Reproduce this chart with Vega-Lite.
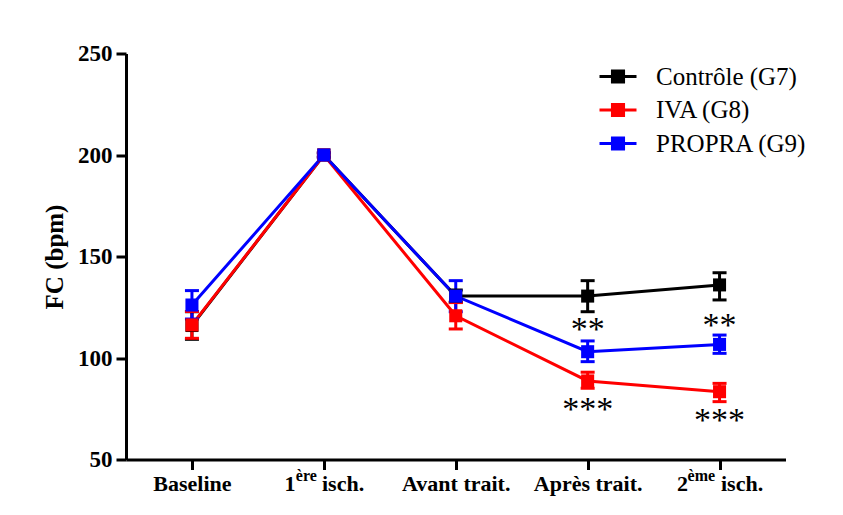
{
  "$schema": "https://vega.github.io/schema/vega-lite/v6.json",
  "autosize": {"type": "none"},
  "width": 659.5,
  "height": 406,
  "padding": {"left": 126, "top": 53.5, "right": 57.5, "bottom": 55.5},
  "background": "white",
  "config": {
    "view": {"stroke": null},
    "font": "Liberation Serif",
    "axis": {
      "grid": false,
      "domainColor": "black",
      "domainWidth": 3,
      "tickColor": "black",
      "tickWidth": 3,
      "tickSize": 10,
      "labelFont": "Liberation Serif",
      "labelFontWeight": "bold",
      "labelColor": "black",
      "titleFont": "Liberation Serif",
      "titleFontWeight": "bold",
      "titleColor": "black"
    },
    "legend": {
      "labelFont": "Liberation Serif",
      "labelFontSize": 25,
      "labelColor": "black",
      "labelFontWeight": "normal"
    }
  },
  "datasets": {
    "fc": [
      {"g": "Contrôle (G7)", "t": "Baseline", "fc": 116, "lo": 109.2, "hi": 122.8},
      {"g": "Contrôle (G7)", "t": "1ère isch.", "fc": 200, "lo": 199, "hi": 201},
      {"g": "Contrôle (G7)", "t": "Avant trait.", "fc": 130.5, "lo": 127.5, "hi": 133.5},
      {"g": "Contrôle (G7)", "t": "Après trait.", "fc": 130.5, "lo": 122.8, "hi": 138.1},
      {"g": "Contrôle (G7)", "t": "2ème isch.", "fc": 136, "lo": 128.6, "hi": 142},
      {"g": "IVA (G8)", "t": "Baseline", "fc": 116.3, "lo": 109.7, "hi": 122.9},
      {"g": "IVA (G8)", "t": "1ère isch.", "fc": 200, "lo": 199, "hi": 201},
      {"g": "IVA (G8)", "t": "Avant trait.", "fc": 120.8, "lo": 114.3, "hi": 127.3},
      {"g": "IVA (G8)", "t": "Après trait.", "fc": 88.7, "lo": 85.1, "hi": 93},
      {"g": "IVA (G8)", "t": "2ème isch.", "fc": 83.4, "lo": 78.5, "hi": 87.5},
      {"g": "PROPRA (G9)", "t": "Baseline", "fc": 126.1, "lo": 119.2, "hi": 133.2},
      {"g": "PROPRA (G9)", "t": "1ère isch.", "fc": 200, "lo": 199, "hi": 201},
      {"g": "PROPRA (G9)", "t": "Avant trait.", "fc": 130.5, "lo": 122.8, "hi": 138.1},
      {"g": "PROPRA (G9)", "t": "Après trait.", "fc": 103.1, "lo": 98.2, "hi": 108.4},
      {"g": "PROPRA (G9)", "t": "2ème isch.", "fc": 106.7, "lo": 102.3, "hi": 111.3}
    ],
    "stars": [
      {"t": "Après trait.", "label": "**", "pos": 113.6},
      {"t": "2ème isch.", "label": "**", "pos": 116},
      {"t": "Après trait.", "label": "***", "pos": 74.5},
      {"t": "2ème isch.", "label": "***", "pos": 68.9}
    ],
    "sup": [
      {"t": "1ère isch.", "s": "ère"},
      {"t": "2ème isch.", "s": "ème"}
    ]
  },
  "encoding": {
    "x": {
      "field": "t",
      "type": "ordinal",
      "scale": {"type": "point", "padding": 0.5, "domain": ["Baseline", "1ère isch.", "Avant trait.", "Après trait.", "2ème isch."]},
      "axis": {
        "title": null,
        "labelAngle": 0,
        "labelFontSize": 22,
        "labelPadding": 4,
        "labelExpr": "datum.value == '1ère isch.' ? '1\u00a0\u00a0\u00a0\u00a0\u2009isch.' : datum.value == '2ème isch.' ? '2\u00a0\u00a0\u00a0\u00a0\u00a0\u00a0isch.' : datum.value"
      }
    }
  },
  "layer": [
    {
      "data": {"name": "fc"},
      "mark": {"type": "line", "strokeWidth": 3},
      "encoding": {
        "y": {
          "field": "fc",
          "type": "quantitative",
          "scale": {"domain": [50, 250], "nice": false, "zero": false},
          "axis": {
            "title": "FC (bpm)",
            "titleFontSize": 25,
            "titlePadding": 10,
            "values": [50, 100, 150, 200, 250],
            "labelFontSize": 23,
            "labelPadding": 4
          }
        },
        "color": {
          "field": "g",
          "type": "nominal",
          "scale": {"domain": ["Contrôle (G7)", "IVA (G8)", "PROPRA (G9)"], "range": ["#000000", "#ff0000", "#0000ff"]},
          "legend": {
            "title": null,
            "orient": "none",
            "legendX": 472,
            "legendY": 3,
            "padding": 0,
            "rowPadding": 0.5,
            "labelOffset": 18,
            "symbolType": "M-1,0L1,0M-0.3,-0.3L0.3,-0.3L0.3,0.3L-0.3,0.3Z",
            "symbolSize": 1369,
            "symbolStrokeWidth": 3
          }
        }
      }
    },
    {
      "data": {"name": "fc"},
      "mark": {"type": "rule", "strokeWidth": 3, "opacity": 1},
      "encoding": {
        "y": {"field": "lo", "type": "quantitative"},
        "y2": {"field": "hi"},
        "color": {"field": "g", "type": "nominal", "legend": null}
      }
    },
    {
      "data": {"name": "fc"},
      "mark": {"type": "tick", "thickness": 3, "size": 14, "opacity": 1},
      "encoding": {
        "y": {"field": "lo", "type": "quantitative"},
        "color": {"field": "g", "type": "nominal", "legend": null}
      }
    },
    {
      "data": {"name": "fc"},
      "mark": {"type": "tick", "thickness": 3, "size": 14, "opacity": 1},
      "encoding": {
        "y": {"field": "hi", "type": "quantitative"},
        "color": {"field": "g", "type": "nominal", "legend": null}
      }
    },
    {
      "data": {"name": "fc"},
      "mark": {"type": "point", "shape": "square", "filled": true, "opacity": 1, "size": 170},
      "encoding": {
        "y": {"field": "fc", "type": "quantitative"},
        "color": {"field": "g", "type": "nominal", "legend": null}
      }
    },
    {
      "data": {"name": "stars"},
      "mark": {"type": "text", "fontSize": 34, "font": "Liberation Serif", "baseline": "middle", "color": "black"},
      "encoding": {
        "y": {"field": "pos", "type": "quantitative"},
        "text": {"field": "label"}
      }
    },
    {
      "data": {"name": "sup"},
      "transform": [{"filter": "datum.s == 'ère'"}],
      "mark": {"type": "text", "fontSize": 16, "fontWeight": "bold", "font": "Liberation Serif", "align": "left", "baseline": "alphabetic", "dx": -28, "dy": 21, "color": "black"},
      "encoding": {
        "y": {"datum": 50},
        "text": {"field": "s"}
      }
    },
    {
      "data": {"name": "sup"},
      "transform": [{"filter": "datum.s == 'ème'"}],
      "mark": {"type": "text", "fontSize": 16, "fontWeight": "bold", "font": "Liberation Serif", "align": "left", "baseline": "alphabetic", "dx": -32, "dy": 21, "color": "black"},
      "encoding": {
        "y": {"datum": 50},
        "text": {"field": "s"}
      }
    }
  ]
}
